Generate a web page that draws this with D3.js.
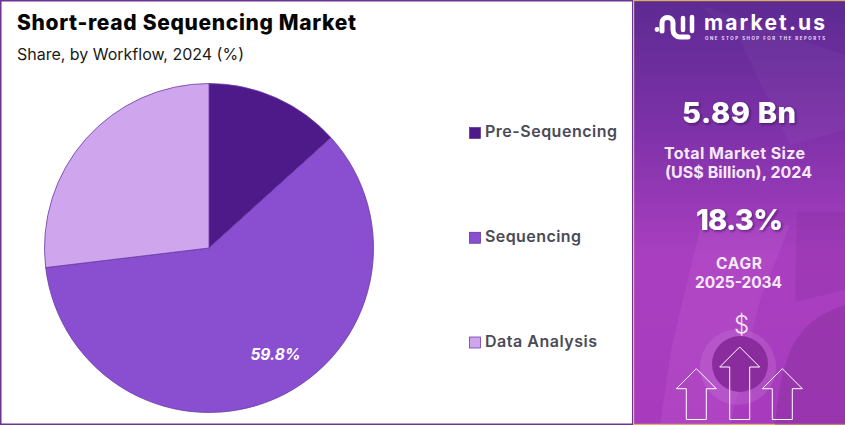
<!DOCTYPE html>
<html>
<head>
<meta charset="utf-8">
<script src="https://cdn.jsdelivr.net/npm/d3@7"></script>
<style>
  html, body { margin: 0; padding: 0; background: #fff; }
  svg { display: block; font-family: Inter, "Open Sans", sans-serif; }
</style>
</head>
<body>
<div id="chart"></div>
<script>
const categories = ["Pre-Sequencing", "Sequencing", "Data Analysis"];
const shares = [13.3, 59.8, 26.9];
const colors = ["#4e1a8a", "#8a4fd0", "#cfa6ee"];
const shownLabels = [null, "59.8%", null];
const legendWidths = [132, 96, 112];

const width = 845, height = 425;
const svg = d3.select("#chart").append("svg").attr("width", width).attr("height", height);

const defs = svg.append("defs");
const grad = defs.append("linearGradient").attr("id", "panel").attr("x1", 0).attr("y1", 0).attr("x2", 0).attr("y2", 1);
grad.append("stop").attr("offset", "0%").attr("stop-color", "#5c2a92");
grad.append("stop").attr("offset", "30%").attr("stop-color", "#7d31a8");
grad.append("stop").attr("offset", "60%").attr("stop-color", "#a93fc0");
grad.append("stop").attr("offset", "100%").attr("stop-color", "#a83bbd");
const blur = defs.append("filter").attr("id", "shadow").attr("x", "-20%").attr("y", "-20%").attr("width", "140%").attr("height", "150%");
blur.append("feDropShadow").attr("dx", 1.5).attr("dy", 1.5).attr("stdDeviation", 1.2).attr("flood-color", "#2a0a4a").attr("flood-opacity", 0.6);

// left side frame
svg.append("rect").attr("x", 0.75).attr("y", 0.75).attr("width", 632).attr("height", 423.5)
  .attr("fill", "#fff").attr("stroke", "#6f3391").attr("stroke-width", 1.5);

svg.append("text").attr("x", 17).attr("y", 30).attr("font-size", 21).attr("font-weight", 800)
  .attr("fill", "#050505").attr("textLength", 339).text("Short-read Sequencing Market");
svg.append("text").attr("x", 17).attr("y", 60).attr("font-size", 16).attr("font-weight", 400)
  .attr("fill", "#1a1a1a").attr("textLength", 227).text("Share, by Workflow, 2024 (%)");

// pie
const pie = d3.pie().sort(null).value(d => d);
const arc = d3.arc().innerRadius(0).outerRadius(164.5);
const pieG = svg.append("g").attr("transform", "translate(209,248)");
const arcs = pie(shares);
pieG.selectAll("path").data(arcs).join("path")
  .attr("d", arc)
  .attr("fill", (d, i) => colors[i])
  .attr("stroke", "#6a3aa5").attr("stroke-width", 0.8);
const labelArc = d3.arc().innerRadius(117).outerRadius(117);
pieG.selectAll("text").data(arcs.filter(d => shownLabels[d.index])).join("text")
  .attr("transform", d => {
    const [x, y] = labelArc.centroid(d);
    return `translate(${x + 18},${y})`;
  })
  .attr("text-anchor", "middle").attr("dy", "0.35em")
  .attr("font-size", 15.5).attr("font-weight", 700).attr("font-style", "italic")
  .attr("fill", "#fff").text(d => shownLabels[d.index]);

// legend
const legendY = d3.scalePoint().domain(categories).range([133, 342.5]);
const legend = svg.append("g").selectAll("g").data(categories).join("g")
  .attr("transform", d => `translate(469.5,${legendY(d)})`);
legend.append("rect").attr("x", 0).attr("y", -5.5).attr("width", 11).attr("height", 11)
  .attr("fill", (d, i) => colors[i]).attr("stroke", "#5a2a96").attr("stroke-width", 0.7);
legend.append("text").attr("x", 15.5).attr("y", 4).attr("font-size", 16).attr("font-weight", 600)
  .attr("fill", "#4b4a57").attr("textLength", (d, i) => legendWidths[i]).text(d => d);

// right panel
const panel = svg.append("g");
panel.append("rect").attr("x", 633).attr("y", 0).attr("width", 212).attr("height", 425).attr("fill", "url(#panel)");
panel.append("rect").attr("x", 633).attr("y", 0).attr("width", 1.2).attr("height", 425).attr("fill", "#e8c25a");
panel.append("rect").attr("x", 633).attr("y", 0).attr("width", 212).attr("height", 1.2).attr("fill", "#d8b060");
panel.append("rect").attr("x", 633).attr("y", 423.8).attr("width", 212).attr("height", 1.2).attr("fill", "#e8b060");

// faded photo shapes behind the text
panel.append("path").attr("d", "M700 5L845 55L845 130L790 145L740 40Z").attr("fill", "#fff").attr("opacity", 0.03);
panel.append("path").attr("d", "M797 212L845 212L845 290L795 302Z").attr("fill", "#6d1f88").attr("opacity", 0.15);
panel.append("path").attr("d", "M672 345L700 230L790 225L760 300L730 425L660 425Z").attr("fill", "#d070dc").attr("opacity", 0.18);
panel.append("circle").attr("cx", 738).attr("cy", 367).attr("r", 38).attr("fill", "#c77ad6").attr("opacity", 0.3);
panel.append("circle").attr("cx", 740).attr("cy", 364).attr("r", 28).attr("fill", "#8a2c9e");
panel.append("path").attr("d", "M775 425C782 345 800 320 845 305L845 425Z").attr("fill", "#7c2a92").attr("opacity", 0.35);

function panelText(txt, x, y, size, weight, len, shadow) {
  const t = panel.append("text").attr("x", x).attr("y", y)
    .attr("font-size", size).attr("font-weight", weight).attr("fill", "#fff")
    .attr("textLength", len).text(txt);
  if (shadow) t.attr("filter", "url(#shadow)");
  return t;
}
panelText("market.us", 704, 30, 21, 700, 121);
panelText("ONE STOP SHOP FOR THE REPORTS", 705, 39.5, 4.4, 700, 120).attr("fill", "#f0dcff");

// logo mark
panel.append("path").attr("d", "M662 31V23A5.5 5.5 0 0 1 673 23V30A7 7 0 0 0 680 37H688")
  .attr("fill", "none").attr("stroke", "#fff").attr("stroke-width", 5).attr("stroke-linecap", "round");
panel.append("path").attr("d", "M683 18V30M692 17V31")
  .attr("fill", "none").attr("stroke", "#fff").attr("stroke-width", 4.5).attr("stroke-linecap", "round");
panel.append("circle").attr("cx", 657).attr("cy", 29.5).attr("r", 2.4).attr("fill", "#fff");

panelText("5.89 Bn", 682, 123, 29, 800, 114, true);
panelText("Total Market Size", 664, 159, 16, 700, 141).attr("fill", "#f6e9fb");
panelText("(US$ Billion), 2024", 665, 178, 16, 700, 147).attr("fill", "#f6e9fb");
panelText("18.3%", 696, 230, 29, 800, 87, true);
panelText("CAGR", 716, 269, 15.5, 700, 46).attr("fill", "#f6e9fb");
panelText("2025-2034", 695, 288, 15.5, 700, 87).attr("fill", "#f6e9fb");
panelText("$", 734, 333, 24, 300, 13).attr("fill", "#f6e9fb");

// outline arrows
const arrow = (cx, tip) => `M${cx} ${tip}L${cx + 20} ${tip + 20}H${cx + 10}V419.5H${cx - 10}V${tip + 20}H${cx - 20}Z`;
panel.selectAll("path.arrow").data([[696.3, 368.7], [739.7, 347], [782.3, 368.7]]).join("path")
  .attr("class", "arrow").attr("d", d => arrow(d[0], d[1]))
  .attr("fill", "none").attr("stroke", "#fff").attr("stroke-width", 1);
</script>
</body>
</html>
